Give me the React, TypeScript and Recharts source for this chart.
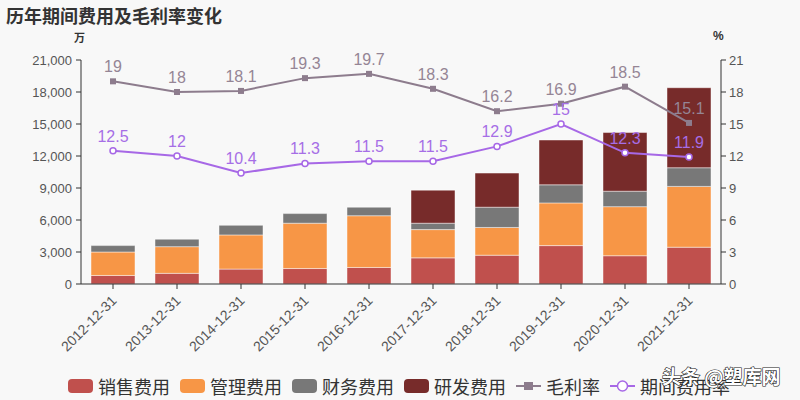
import React from 'react';
import {
  ComposedChart,
  Bar,
  Line,
  XAxis,
  YAxis,
  LabelList,
} from 'recharts';

// Reporting periods
const periods = [
  '2012-12-31', '2013-12-31', '2014-12-31', '2015-12-31', '2016-12-31',
  '2017-12-31', '2018-12-31', '2019-12-31', '2020-12-31', '2021-12-31',
];

// Expenses, in 万 (stacked)
const salesExpense = [800, 1000, 1400, 1450, 1550, 2450, 2700, 3600, 2650, 3450];
const adminExpense = [2200, 2500, 3200, 4250, 4850, 2650, 2600, 4000, 4600, 5700];
const financeExpense = [600, 700, 900, 900, 800, 600, 1900, 1700, 1450, 1750];
const rdExpense: (number | null)[] = [null, null, null, null, null, 3100, 3200, 4200, 5500, 7500];

// Ratios, in %
const grossMargin = [19, 18, 18.1, 19.3, 19.7, 18.3, 16.2, 16.9, 18.5, 15.1];
const periodExpenseRate = [12.5, 12, 10.4, 11.3, 11.5, 11.5, 12.9, 15, 12.3, 11.9];

// Axis ticks
const leftTicks = [0, 3000, 6000, 9000, 12000, 15000, 18000, 21000];
const rightTicks = [0, 3, 6, 9, 12, 15, 18, 21];

const COLORS = {
  sales: '#c0504d',
  admin: '#f79646',
  finance: '#787878',
  rd: '#772b2a',
  gross: '#8d7c8d',
  grossLabel: '#958595',
  period: '#a768e6',
  periodLabel: '#a66ee6',
};

const data = periods.map((p, i) => ({
  period: p,
  sales: salesExpense[i],
  admin: adminExpense[i],
  finance: financeExpense[i],
  rd: rdExpense[i],
  gross: grossMargin[i],
  rate: periodExpenseRate[i],
}));

const NUM_FONT = '"Liberation Sans", Arial, sans-serif';
const CJK_FONT = '"Noto Sans CJK SC", "Noto Sans", sans-serif';

const SquareDot = (props: any) => {
  const { cx, cy } = props;
  if (cx == null || cy == null) return null;
  return <rect x={cx - 3} y={cy - 3} width={6} height={6} fill={COLORS.gross} />;
};

const XTick = (props: any) => {
  const { x, y, payload } = props;
  return (
    <text
      x={x + 1}
      y={y + 7}
      transform={`rotate(-45, ${x + 1}, ${y + 7})`}
      textAnchor="end"
      dominantBaseline="central"
      fontFamily={NUM_FONT}
      fontSize={14}
      fill="#555"
    >
      {payload.value}
    </text>
  );
};

const legendItems = [
  { name: '销售费用', type: 'rect', color: COLORS.sales },
  { name: '管理费用', type: 'rect', color: COLORS.admin },
  { name: '财务费用', type: 'rect', color: COLORS.finance },
  { name: '研发费用', type: 'rect', color: COLORS.rd },
  { name: '毛利率', type: 'square', color: COLORS.gross },
  { name: '期间费用率', type: 'circle', color: COLORS.period },
];

const LegendIcon = ({ type, color }: { type: string; color: string }) => {
  if (type === 'rect') {
    return (
      <svg width={25} height={14} style={{ display: 'block' }}>
        <rect x={0} y={0} width={25} height={14} rx={4} ry={4} fill={color} />
      </svg>
    );
  }
  return (
    <svg width={25} height={14} style={{ display: 'block' }}>
      <line x1={0} y1={7} x2={25} y2={7} stroke={color} strokeWidth={2} />
      {type === 'square' ? (
        <rect x={8} y={3} width={9} height={8} fill={color} />
      ) : (
        <circle cx={12.5} cy={7} r={5} fill="#fff" stroke={color} strokeWidth={1.5} />
      )}
    </svg>
  );
};

export default function App() {
  return (
    <div
      style={{
        position: 'absolute',
        left: 0,
        top: 0,
        width: 800,
        height: 400,
        background: '#f8f8f8',
        overflow: 'hidden',
      }}
    >
      <div
        style={{
          position: 'absolute',
          left: 6,
          top: 3,
          fontFamily: CJK_FONT,
          fontWeight: 700,
          fontSize: 18,
          color: '#333',
          lineHeight: '24px',
          whiteSpace: 'nowrap',
        }}
      >
        历年期间费用及毛利率变化
      </div>
      <div
        style={{
          position: 'absolute',
          left: 74,
          top: 30,
          fontFamily: CJK_FONT,
          fontWeight: 700,
          fontSize: 11,
          color: '#333',
          lineHeight: '14px',
        }}
      >
        万
      </div>
      <div
        style={{
          position: 'absolute',
          left: 713,
          top: 29,
          fontFamily: NUM_FONT,
          fontWeight: 700,
          fontSize: 12,
          color: '#333',
          lineHeight: '14px',
        }}
      >
        %
      </div>

      <div style={{ position: 'absolute', left: 0, top: 0 }}>
        <ComposedChart
          width={800}
          height={400}
          data={data}
          margin={{ top: 60, right: 0, bottom: 0, left: 0 }}
        >
          <XAxis
            dataKey="period"
            height={116}
            interval={0}
            axisLine={{ stroke: '#333' }}
            tickLine={{ stroke: '#333' }}
            tickSize={5}
            tick={<XTick />}
          />
          <YAxis
            yAxisId="left"
            width={81}
            domain={[0, 21000]}
            ticks={leftTicks}
            interval={0}
            tickFormatter={(v: number) => v.toLocaleString('en-US')}
            axisLine={{ stroke: '#333' }}
            tickLine={{ stroke: '#333' }}
            tickSize={5}
            tickMargin={4}
            tick={{ fill: '#555', fontSize: 13, fontFamily: NUM_FONT }}
          />
          <YAxis
            yAxisId="right"
            orientation="right"
            width={79}
            domain={[0, 21]}
            ticks={rightTicks}
            interval={0}
            axisLine={{ stroke: '#333' }}
            tickLine={{ stroke: '#333' }}
            tickSize={5}
            tickMargin={3}
            tick={{ fill: '#555', fontSize: 13, fontFamily: NUM_FONT }}
          />
          <Bar yAxisId="left" dataKey="sales" stackId="e" barSize={44} fill={COLORS.sales}
            stroke="rgba(255,255,255,0.45)" strokeWidth={1} isAnimationActive={false} />
          <Bar yAxisId="left" dataKey="admin" stackId="e" barSize={44} fill={COLORS.admin}
            stroke="rgba(255,255,255,0.45)" strokeWidth={1} isAnimationActive={false} />
          <Bar yAxisId="left" dataKey="finance" stackId="e" barSize={44} fill={COLORS.finance}
            stroke="rgba(255,255,255,0.45)" strokeWidth={1} isAnimationActive={false} />
          <Bar yAxisId="left" dataKey="rd" stackId="e" barSize={44} fill={COLORS.rd}
            stroke="rgba(255,255,255,0.45)" strokeWidth={1} isAnimationActive={false} />
          <Line
            yAxisId="right"
            dataKey="gross"
            type="linear"
            stroke={COLORS.gross}
            strokeWidth={2}
            dot={<SquareDot />}
            activeDot={false}
            isAnimationActive={false}
          >
            <LabelList
              dataKey="gross"
              position="top"
              offset={9}
              fill={COLORS.grossLabel}
              fontSize={16}
              fontFamily={NUM_FONT}
            />
          </Line>
          <Line
            yAxisId="right"
            dataKey="rate"
            type="linear"
            stroke={COLORS.period}
            strokeWidth={2}
            dot={{ r: 3, fill: '#fff', stroke: COLORS.period, strokeWidth: 1.5 }}
            activeDot={false}
            isAnimationActive={false}
          >
            <LabelList
              dataKey="rate"
              position="top"
              offset={9}
              fill={COLORS.periodLabel}
              fontSize={16}
              fontFamily={NUM_FONT}
            />
          </Line>
        </ComposedChart>
      </div>

      <div
        style={{
          position: 'absolute',
          left: 68,
          top: 374,
          height: 24,
          display: 'flex',
          alignItems: 'center',
          fontFamily: CJK_FONT,
          fontSize: 18,
          color: '#333',
          whiteSpace: 'nowrap',
        }}
      >
        {legendItems.map((it) => (
          <div key={it.name} style={{ display: 'flex', alignItems: 'center', marginRight: 10 }}>
            <LegendIcon type={it.type} color={it.color} />
            <span style={{ marginLeft: 5, lineHeight: '24px' }}>{it.name}</span>
          </div>
        ))}
      </div>

      <div
        style={{
          position: 'absolute',
          left: 662,
          top: 362,
          fontFamily: CJK_FONT,
          fontSize: 19,
          fontWeight: 700,
          color: '#fff',
          WebkitTextStroke: '1.2px #222',
          paintOrder: 'stroke fill',
          lineHeight: '28px',
          whiteSpace: 'nowrap',
        }}
      >
        头条 @塑库网
      </div>
    </div>
  );
}
